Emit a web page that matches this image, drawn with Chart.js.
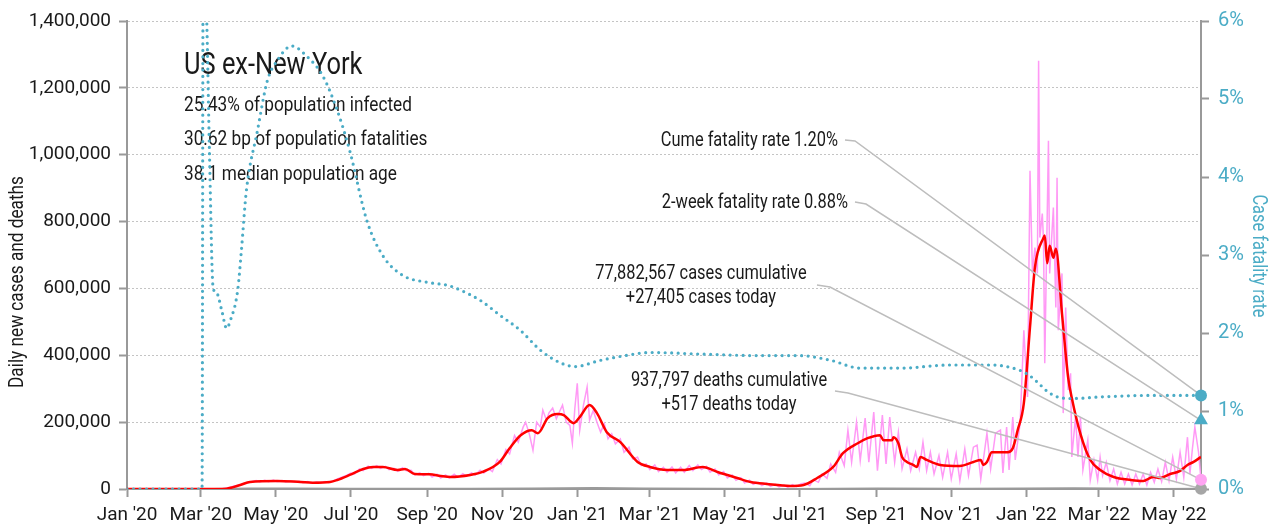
<!DOCTYPE html>
<html>
<head>
<meta charset="utf-8">
<script src="https://cdn.jsdelivr.net/npm/chart.js@4.4.1/dist/chart.umd.min.js"></script>
<style>
  html, body { margin: 0; padding: 0; background: #fff; }
  canvas { display: block; }
</style>
</head>
<body>
<canvas id="chart" width="1278" height="529"></canvas>
<script>
// days counted from Jan 1 2020
const tickDays = [0, 60, 121, 182, 244, 305, 366, 425, 486, 547, 609, 670, 731, 790, 851]
const tickLabels = ["Jan '20", "Mar '20", "May '20", "Jul '20", "Sep '20", "Nov '20", "Jan '21", "Mar '21", "May '21", "Jul '21", "Sep '21", "Nov '21", "Jan '22", "Mar '22", "May '22"]
const lastDay = 873

// daily new cases, as reported (pink)
const rawDays = [0, 73, 77, 80, 84, 87, 91, 94, 98, 101, 105, 108, 112, 115, 119, 122, 126, 129, 133, 136, 140, 143, 147, 150, 154, 157, 161, 164, 168,
  171, 175, 178, 182, 185, 189, 192, 196, 199, 203, 206, 210, 213, 217, 220, 224, 227, 231, 234, 238, 241, 245, 248, 252, 255, 259, 262, 266, 269, 273, 276, 280, 283, 287, 290,
  294, 297, 301, 304, 308, 311, 315, 318, 322, 324, 327, 330, 333, 336, 338, 341, 343, 346, 349, 352, 354, 357, 360, 362, 364, 366, 368, 371, 374, 376, 379, 382, 385, 388, 391, 394, 397, 401, 404, 408, 411, 415, 418,
  422, 425, 429, 432, 436, 439, 443, 446, 450, 453, 457, 460, 464, 467, 471, 474, 478, 481, 485, 488, 492, 495, 499, 502, 506, 509, 513, 516, 520, 523, 527, 530, 534, 537, 541, 544, 548,
  551, 555, 558, 562, 565, 569, 572, 576, 579, 583, 586, 589, 593, 596, 600, 603, 607, 610, 614, 617, 620, 624, 627, 630, 634, 637, 641, 644, 647, 650, 653, 656, 660, 663, 667, 670, 674, 677, 681, 684, 688, 691, 694, 699, 702, 706,
  710, 712, 715, 717, 720, 722, 726, 729, 732, 734, 736, 738, 740, 741, 742, 744, 745, 746, 749, 750, 753, 755, 756, 757, 760, 761, 763, 765, 767, 768, 771, 773, 775, 777, 781, 783, 786, 789,
  791, 793, 796, 799, 802, 805, 808, 811, 814, 817, 820, 823, 826, 829, 832, 835, 838, 841, 844, 847, 850, 853, 856, 859, 862, 864, 866, 868, 871, 873]
const rawCases = [0, 0, 800, 2000, 5000, 9000, 11000, 16000, 19000, 22000, 25000, 21000, 26000, 22000, 27000, 22000, 25000, 21000, 24000, 20000, 23000, 19000, 22000, 17000, 21000, 18000, 22000, 19000, 25000,
  30000, 36000, 40000, 48000, 45000, 60000, 55000, 68000, 62000, 70000, 62000, 68000, 58000, 62000, 53000, 64000, 55000, 56000, 42000, 48000, 40000, 47000, 36000, 44000, 33000, 42000, 33000, 44000, 35000, 46000, 38000, 48000, 42000, 56000, 48000,
  60000, 52000, 88000, 75000, 118000, 105000, 160000, 140000, 185000, 200000, 165000, 116000, 200000, 185000, 236000, 205000, 228000, 242000, 210000, 235000, 251000, 200000, 190000, 137000, 240000, 316000, 176000, 250000, 305000, 206000, 235000, 200000, 170000, 195000, 150000, 165000, 135000, 150000, 110000, 125000, 90000, 95000, 70000,
  75000, 58000, 72000, 52000, 65000, 50000, 66000, 48000, 65000, 50000, 70000, 55000, 72000, 58000, 68000, 50000, 60000, 42000, 52000, 33000, 42000, 26000, 34000, 18000, 26000, 14000, 20000, 10000, 18000, 8000, 14000, 6000, 12000, 5000, 13000, 7000, 16000,
  18000, 10000, 28000, 20000, 45000, 32000, 75000, 50000, 110000, 70000, 176000, 80000, 200000, 85000, 212000, 80000, 230000, 55000, 221000, 75000, 215000, 80000, 170000, 60000, 120000, 55000, 110000, 60000, 140000, 55000, 110000, 45000, 100000, 35000, 110000, 30000, 105000, 25000, 120000, 40000, 125000, 131000, 30000, 167000, 60000, 167000,
  176000, 48000, 185000, 57000, 215000, 87000, 197000, 475000, 275000, 952000, 645000, 722000, 645000, 1281000, 752000, 824000, 743000, 376000, 1042000, 645000, 842000, 543000, 931000, 475000, 645000, 227000, 543000, 296000, 346000, 96000, 215000, 96000, 215000, 57000, 146000, 27000, 87000, 27000,
  95000, 40000, 80000, 25000, 60000, 15000, 50000, 15000, 45000, 12000, 45000, 15000, 45000, 12000, 50000, 20000, 60000, 22000, 80000, 25000, 95000, 30000, 110000, 35000, 155000, 45000, 120000, 185000, 110000, 27405]

// 7-day average of new cases (red)
const avgDays = [0, 73, 81, 92, 100, 122, 141, 151, 165, 171, 181, 192, 200, 208, 220, 226, 234, 246, 255, 263, 279, 289, 303, 311, 320, 329, 334, 342, 350, 355, 363, 368, 376, 382, 390, 401, 415, 425, 439, 452, 468, 480, 496, 507, 520, 539, 550, 561, 574, 582, 594, 602, 612, 615, 622, 623, 627, 630, 634, 639, 642, 645, 650, 661, 677, 688, 694, 696, 699, 703, 716, 720, 724, 729, 734, 738, 745, 746, 748, 750, 753, 755, 760, 765, 768, 775, 783, 791, 802, 816, 826, 834, 840, 848, 856, 862, 867, 873]
const avgCases = [0, 0, 1000, 12000, 21000, 24000, 21000, 19000, 21000, 27000, 42000, 60000, 66000, 66000, 57000, 60000, 45000, 44000, 39000, 36000, 42000, 51000, 81000, 122000, 161000, 176000, 167000, 212000, 224000, 221000, 197000, 215000, 251000, 227000, 170000, 140000, 81000, 66000, 57000, 57000, 66000, 51000, 33000, 21000, 15000, 9000, 12000, 33000, 66000, 107000, 137000, 152000, 161000, 146000, 146000, 155000, 137000, 96000, 81000, 72000, 66000, 96000, 87000, 72000, 69000, 81000, 87000, 72000, 81000, 110000, 110000, 122000, 176000, 257000, 484000, 663000, 752000, 758000, 675000, 728000, 692000, 719000, 525000, 334000, 272000, 165000, 87000, 57000, 36000, 27000, 24000, 36000, 33000, 45000, 54000, 72000, 81000, 96000]

// 7-day average of new deaths (grey)
const deathDays = [0, 70, 100, 130, 180, 220, 280, 330, 380, 420, 480, 540, 610, 680, 730, 770, 800, 840, 873]
const deathAvg = [0, 0, 1800, 1500, 700, 1000, 700, 1800, 2800, 1800, 600, 250, 1800, 1000, 1400, 2500, 1400, 350, 400]

// cumulative case fatality rate, % (blue dotted)
const cfrDays = [0, 61, 62, 65, 67, 70, 73, 77, 81, 84, 90, 93, 97, 106, 114, 122, 134, 146, 159, 171, 181, 195, 208, 224, 244, 261, 271, 287, 303, 320, 336, 352, 364, 385, 405, 425, 466, 515, 547, 572, 596, 629, 669, 702, 726, 734, 740, 749, 759, 769, 791, 832, 873]
const cfrRate = [0, 0, 7.5, 5.9, 4.34, 2.58, 2.51, 2.29, 2.06, 2.16, 2.55, 3.06, 3.82, 4.59, 5.23, 5.49, 5.68, 5.55, 5.3, 4.85, 4.34, 3.44, 2.99, 2.74, 2.65, 2.61, 2.55, 2.42, 2.23, 2.03, 1.78, 1.62, 1.57, 1.65, 1.71, 1.75, 1.73, 1.71, 1.71, 1.65, 1.55, 1.55, 1.59, 1.59, 1.52, 1.45, 1.37, 1.24, 1.17, 1.16, 1.18, 1.2, 1.2]

const cumeRate = 1.20
const twoWeekRate = 0.88
const casesToday = 27405
const deathsToday = 517

const FONT = 'Roboto, "Liberation Sans", sans-serif'
const CONDENSE = 0.82
const BLUE = '#4bacc6'
const INK = '#1a1a1a'

const toPoints = (xs, ys) => xs.map((x, i) => ({ x, y: ys[i] }))

// narrow face imitation: squeeze the text horizontally
const drawText = (ctx, text, x, y, size, align, color) => {
    ctx.save()
    ctx.font = `${size}px ${FONT}`
    ctx.fillStyle = color || INK
    ctx.textAlign = align || 'left'
    ctx.textBaseline = 'middle'
    ctx.translate(x, y)
    ctx.scale(CONDENSE, 1)
    ctx.fillText(text, 0, 0)
    ctx.restore()
}

const notes = [
    { lines: ['Cume fatality rate 1.20%'], x: 838, y: 141, align: 'right', from: [845, 140], knee: [855, 141], axis: 'y2', value: cumeRate },
    { lines: ['2-week fatality rate 0.88%'], x: 848, y: 203, align: 'right', from: [855, 202], knee: [866, 204], axis: 'y2', value: twoWeekRate },
    { lines: ['77,882,567 cases cumulative', '+27,405 cases today'], x: 701, y: 274, align: 'center', from: [817, 285], knee: [830, 287], axis: 'y', value: casesToday },
    { lines: ['937,797 deaths cumulative', '+517 deaths today'], x: 729, y: 381, align: 'center', from: [835, 391], knee: [848, 393], axis: 'y', value: deathsToday }
]

const textPlugin = {
    id: 'texts',
    beforeDatasetsDraw(chart) {
        const ctx = chart.ctx

        drawText(ctx, 'US ex-New York', 184, 66, 31)
        drawText(ctx, '25.43% of population infected', 184, 106, 21)
        drawText(ctx, '30.62 bp of population fatalities', 184, 140, 21)
        drawText(ctx, '38.1 median population age', 184, 175, 21)

        notes.forEach(note => {
            note.lines.forEach((line, i) => drawText(ctx, line, note.x, note.y + i * 24, 20, note.align))
        })

        ctx.save()
        ctx.translate(18, 282)
        ctx.rotate(-Math.PI / 2)
        drawText(ctx, 'Daily new cases and deaths', 0, 0, 21, 'center')
        ctx.restore()

        ctx.save()
        ctx.translate(1258, 256)
        ctx.rotate(Math.PI / 2)
        drawText(ctx, 'Case fatality rate', 0, 0, 20, 'center', BLUE)
        ctx.restore()
    },
    afterDatasetDraw(chart, args) {
        if (args.index !== 4) return

        const ctx = chart.ctx
        const xEnd = chart.scales.x.getPixelForValue(lastDay)

        ctx.save()
        ctx.strokeStyle = '#bdbdbd'
        ctx.lineWidth = 1.5
        notes.forEach(note => {
            const yEnd = chart.scales[note.axis].getPixelForValue(note.value)
            ctx.beginPath()
            ctx.moveTo(note.from[0], note.from[1])
            ctx.lineTo(note.knee[0], note.knee[1])
            ctx.lineTo(xEnd, yEnd)
            ctx.stroke()
        })
        ctx.restore()
    }
}

const marker = (axis, value, color, style, radius) => ({
    data: [{ x: lastDay, y: value }],
    yAxisID: axis,
    showLine: false,
    pointStyle: style,
    pointRadius: radius,
    pointBackgroundColor: color,
    pointBorderColor: color,
    pointBorderWidth: 0,
    clip: false,
    order: 0
})

Chart.defaults.font.family = FONT

new Chart(document.getElementById('chart'), {
    type: 'line',
    data: {
        datasets: [
            marker('y2', cumeRate, BLUE, 'circle', 6),
            marker('y2', twoWeekRate, BLUE, 'triangle', 8),
            marker('y', casesToday, '#ffa3f2', 'circle', 6),
            marker('y', deathsToday, '#a6a6a6', 'circle', 6),
            {
                data: toPoints(cfrDays, cfrRate),
                yAxisID: 'y2',
                borderColor: BLUE,
                borderWidth: 3.2,
                borderDash: [0, 6.5],
                borderCapStyle: 'round',
                cubicInterpolationMode: 'monotone',
                pointRadius: 0,
                order: 1
            },
            {
                data: toPoints(avgDays, avgCases),
                yAxisID: 'y',
                borderColor: '#ff0000',
                borderWidth: 2.5,
                cubicInterpolationMode: 'monotone',
                pointRadius: 0,
                order: 2
            },
            {
                data: toPoints(deathDays, deathAvg),
                yAxisID: 'y',
                borderColor: '#9a9a9a',
                borderWidth: 2,
                pointRadius: 0,
                order: 3
            },
            {
                data: toPoints(rawDays, rawCases),
                yAxisID: 'y',
                borderColor: '#ff99f5',
                borderWidth: 1.5,
                pointRadius: 0,
                order: 4
            }
        ]
    },
    options: {
        responsive: false,
        animation: false,
        devicePixelRatio: 1,
        layout: { padding: { top: 20, left: 0, right: 0, bottom: 0 } },
        plugins: { legend: { display: false }, tooltip: { enabled: false } },
        scales: {
            x: {
                type: 'linear',
                min: 0,
                max: lastDay,
                afterBuildTicks: scale => { scale.ticks = tickDays.map(value => ({ value })) },
                afterFit: scale => { scale.height = 40 },
                ticks: {
                    autoSkip: false,
                    maxRotation: 0,
                    padding: 7,
                    color: INK,
                    font: { size: 19 },
                    callback: (value, index) => tickLabels[index]
                },
                grid: { drawOnChartArea: false, tickLength: 8, tickColor: '#999', tickWidth: 2 },
                border: { color: '#999', width: 2 }
            },
            y: {
                position: 'left',
                min: 0,
                max: 1400000,
                afterFit: scale => { scale.width = 127 },
                ticks: {
                    stepSize: 200000,
                    padding: 8,
                    color: INK,
                    font: { size: 19 },
                    callback: value => value.toLocaleString('en-US')
                },
                grid: { color: '#c4c4c4', lineWidth: 1, tickLength: 8, tickColor: '#999', tickWidth: 2 },
                border: { color: '#999', width: 2, dash: [2, 2] }
            },
            y2: {
                position: 'right',
                min: 0,
                max: 6,
                afterFit: scale => { scale.width = 77 },
                ticks: {
                    stepSize: 1,
                    padding: 9,
                    color: BLUE,
                    font: { size: 20 },
                    callback: value => value + '%'
                },
                grid: { drawOnChartArea: false, tickLength: 8, tickColor: '#999', tickWidth: 2 },
                border: { color: '#999', width: 2 }
            }
        }
    },
    plugins: [textPlugin]
})
</script>
</body>
</html>
